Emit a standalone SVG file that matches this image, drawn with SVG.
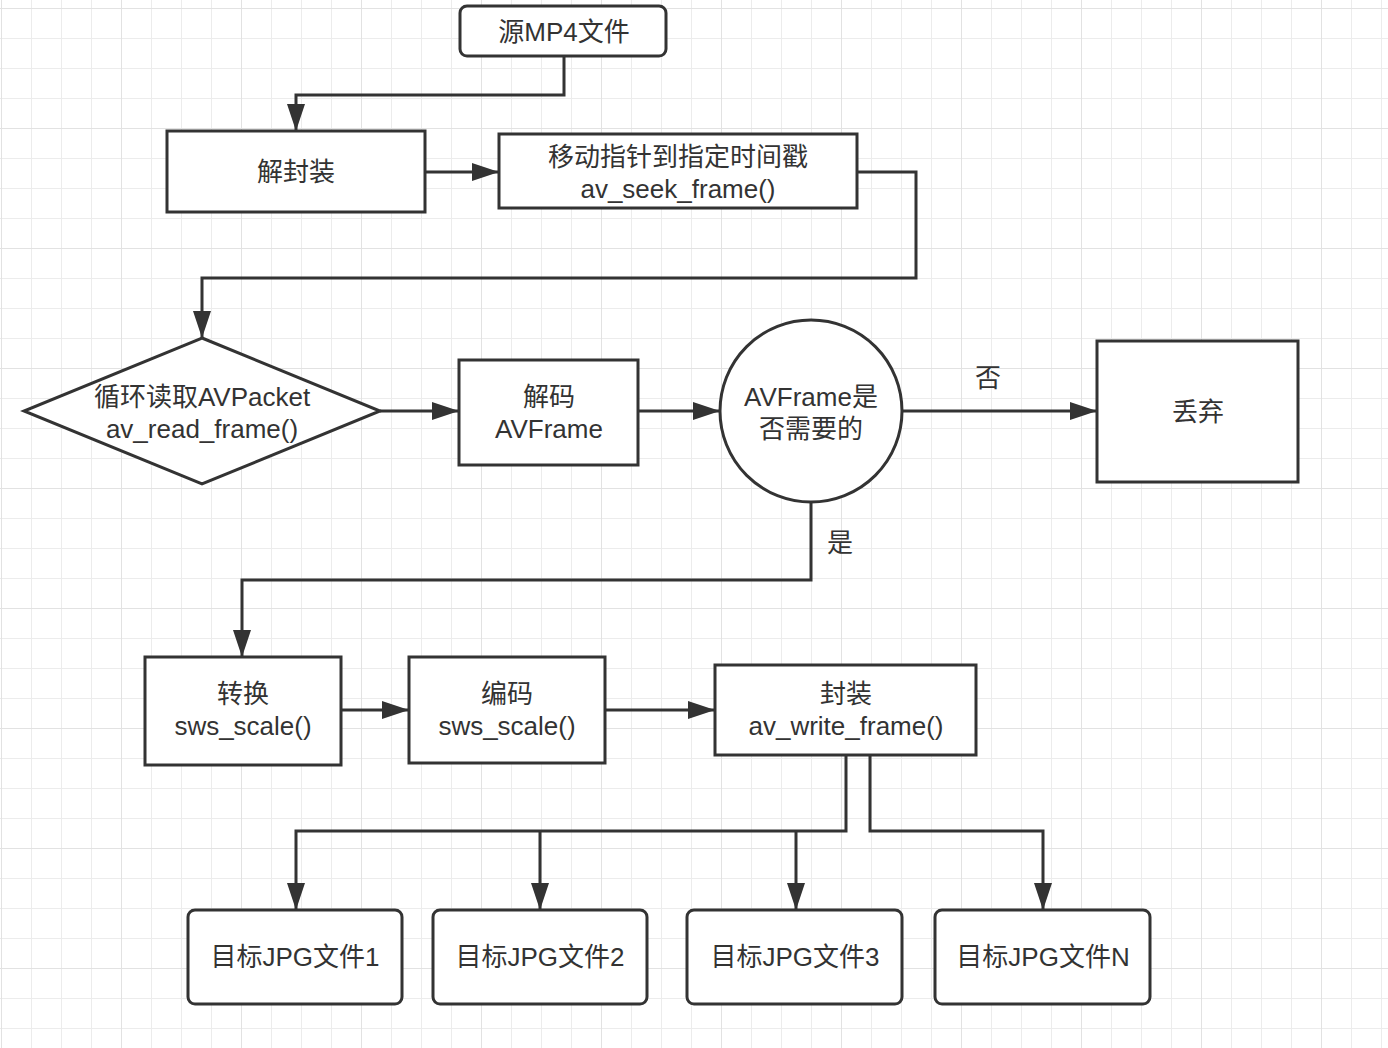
<svg xmlns="http://www.w3.org/2000/svg" width="1388" height="1048" viewBox="0 0 1388 1048">
<defs>
<pattern id="minor" x="1" y="8" width="30" height="30" patternUnits="userSpaceOnUse">
<path d="M0,0 H30 M0,0 V30" fill="none" stroke="#ececec" stroke-width="2"/>
</pattern>
<pattern id="major" x="1" y="8" width="120" height="120" patternUnits="userSpaceOnUse">
<path d="M0,0 H120 M0,0 V120" fill="none" stroke="#e2e2e2" stroke-width="2"/>
</pattern>
<marker id="arr" viewBox="0 0 27 18" refX="27" refY="9" markerWidth="27" markerHeight="18" markerUnits="userSpaceOnUse" orient="auto">
<path d="M0,0 L27,9 L0,18 Z" fill="#333"/>
</marker>
<style>
.n{fill:#fff;stroke:#333;stroke-width:3}
.c{fill:none;stroke:#333;stroke-width:3}
.t{font-family:"Liberation Sans","Noto Sans CJK SC",sans-serif;font-size:26px;fill:#333;text-anchor:middle;dominant-baseline:central}
</style>
</defs>
<rect width="1388" height="1048" fill="#fff"/>
<rect width="1388" height="1048" fill="url(#minor)"/>
<rect width="1388" height="1048" fill="url(#major)"/>

<g id="connectors">
<path class="c" d="M564,56 V95 H296 V131" marker-end="url(#arr)"/>
<path class="c" d="M425,172 H499" marker-end="url(#arr)"/>
<path class="c" d="M857,172 H916 V278 H202 V338" marker-end="url(#arr)"/>
<path class="c" d="M380,411 H459" marker-end="url(#arr)"/>
<path class="c" d="M638,411 H720" marker-end="url(#arr)"/>
<path class="c" d="M902,411 H1097" marker-end="url(#arr)"/>
<path class="c" d="M811,502 V580 H242 V657" marker-end="url(#arr)"/>
<path class="c" d="M341,710 H409" marker-end="url(#arr)"/>
<path class="c" d="M605,710 H715" marker-end="url(#arr)"/>
<path class="c" d="M846,755 V831 H296 V910" marker-end="url(#arr)"/>
<path class="c" d="M870,755 V831 H1043 V910" marker-end="url(#arr)"/>
<path class="c" d="M540,831 V910" marker-end="url(#arr)"/>
<path class="c" d="M796,831 V910" marker-end="url(#arr)"/>
<text class="t" x="988" y="378">否</text>
<text class="t" x="840" y="543">是</text>
</g>

<g id="src">
<rect class="n" x="460" y="6" width="206" height="50" rx="7"/>
<text class="t" x="564" y="32">源MP4文件</text>
</g>
<g id="demux">
<rect class="n" x="167" y="131" width="258" height="81"/>
<text class="t" x="296" y="172">解封装</text>
</g>
<g id="seek">
<rect class="n" x="499" y="134" width="358" height="74"/>
<text class="t" x="678" y="157">移动指针到指定时间戳</text>
<text class="t" x="678" y="189">av_seek_frame()</text>
</g>
<g id="read">
<polygon class="n" points="202,338 380,411 202,484 24,411"/>
<text class="t" x="202" y="397">循环读取AVPacket</text>
<text class="t" x="202" y="429">av_read_frame()</text>
</g>
<g id="decode">
<rect class="n" x="459" y="360" width="179" height="105"/>
<text class="t" x="549" y="397">解码</text>
<text class="t" x="549" y="429">AVFrame</text>
</g>
<g id="check">
<circle class="n" cx="811" cy="411" r="91"/>
<text class="t" x="811" y="397">AVFrame是</text>
<text class="t" x="811" y="429">否需要的</text>
</g>
<g id="drop">
<rect class="n" x="1097" y="341" width="201" height="141"/>
<text class="t" x="1198" y="412">丢弃</text>
</g>
<g id="convert">
<rect class="n" x="145" y="657" width="196" height="108"/>
<text class="t" x="243" y="694">转换</text>
<text class="t" x="243" y="726">sws_scale()</text>
</g>
<g id="encode">
<rect class="n" x="409" y="657" width="196" height="106"/>
<text class="t" x="507" y="694">编码</text>
<text class="t" x="507" y="726">sws_scale()</text>
</g>
<g id="mux">
<rect class="n" x="715" y="665" width="261" height="90"/>
<text class="t" x="846" y="694">封装</text>
<text class="t" x="846" y="726">av_write_frame()</text>
</g>
<g id="jpg1">
<rect class="n" x="188" y="910" width="214" height="94" rx="7"/>
<text class="t" x="295" y="957">目标JPG文件1</text>
</g>
<g id="jpg2">
<rect class="n" x="433" y="910" width="214" height="94" rx="7"/>
<text class="t" x="540" y="957">目标JPG文件2</text>
</g>
<g id="jpg3">
<rect class="n" x="687" y="910" width="215" height="94" rx="7"/>
<text class="t" x="795" y="957">目标JPG文件3</text>
</g>
<g id="jpgN">
<rect class="n" x="935" y="910" width="215" height="94" rx="7"/>
<text class="t" x="1043" y="957">目标JPG文件N</text>
</g>
</svg>
